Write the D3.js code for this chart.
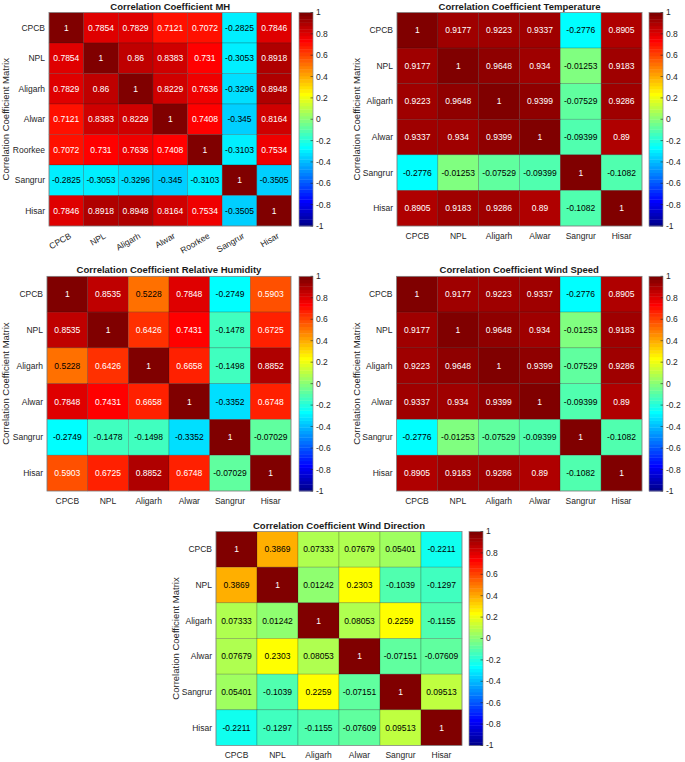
<!DOCTYPE html>
<html><head><meta charset="utf-8">
<script src="https://cdn.jsdelivr.net/npm/d3@7"></script>
<style>
body{margin:0;background:#fff}
text{font-family:"Liberation Sans",Arial,Helvetica,sans-serif}
</style>
</head><body>
<svg id="c" width="685" height="762"></svg>
<script>
// ---------- data ----------
const stationsMH = ["CPCB","NPL","Aligarh","Alwar","Roorkee","Sangrur","Hisar"];
const stations = ["CPCB","NPL","Aligarh","Alwar","Sangrur","Hisar"];

const valuesMH = [
  [1, 0.7854, 0.7829, 0.7121, 0.7072, -0.2825, 0.7846],
  [0.7854, 1, 0.86, 0.8383, 0.731, -0.3053, 0.8918],
  [0.7829, 0.86, 1, 0.8229, 0.7636, -0.3296, 0.8948],
  [0.7121, 0.8383, 0.8229, 1, 0.7408, -0.345, 0.8164],
  [0.7072, 0.731, 0.7636, 0.7408, 1, -0.3103, 0.7534],
  [-0.2825, -0.3053, -0.3296, -0.345, -0.3103, 1, -0.3505],
  [0.7846, 0.8918, 0.8948, 0.8164, 0.7534, -0.3505, 1]
];
const valuesTemperature = [
  [1, 0.9177, 0.9223, 0.9337, -0.2776, 0.8905],
  [0.9177, 1, 0.9648, 0.934, -0.01253, 0.9183],
  [0.9223, 0.9648, 1, 0.9399, -0.07529, 0.9286],
  [0.9337, 0.934, 0.9399, 1, -0.09399, 0.89],
  [-0.2776, -0.01253, -0.07529, -0.09399, 1, -0.1082],
  [0.8905, 0.9183, 0.9286, 0.89, -0.1082, 1]
];
const valuesRH = [
  [1, 0.8535, 0.5228, 0.7848, -0.2749, 0.5903],
  [0.8535, 1, 0.6426, 0.7431, -0.1478, 0.6725],
  [0.5228, 0.6426, 1, 0.6658, -0.1498, 0.8852],
  [0.7848, 0.7431, 0.6658, 1, -0.3352, 0.6748],
  [-0.2749, -0.1478, -0.1498, -0.3352, 1, -0.07029],
  [0.5903, 0.6725, 0.8852, 0.6748, -0.07029, 1]
];
const valuesWindSpeed = [
  [1, 0.9177, 0.9223, 0.9337, -0.2776, 0.8905],
  [0.9177, 1, 0.9648, 0.934, -0.01253, 0.9183],
  [0.9223, 0.9648, 1, 0.9399, -0.07529, 0.9286],
  [0.9337, 0.934, 0.9399, 1, -0.09399, 0.89],
  [-0.2776, -0.01253, -0.07529, -0.09399, 1, -0.1082],
  [0.8905, 0.9183, 0.9286, 0.89, -0.1082, 1]
];
const valuesWindDirection = [
  [1, 0.3869, 0.07333, 0.07679, 0.05401, -0.2211],
  [0.3869, 1, 0.01242, 0.2303, -0.1039, -0.1297],
  [0.07333, 0.01242, 1, 0.08053, 0.2259, -0.1155],
  [0.07679, 0.2303, 0.08053, 1, -0.07151, -0.07609],
  [0.05401, -0.1039, 0.2259, -0.07151, 1, 0.09513],
  [-0.2211, -0.1297, -0.1155, -0.07609, 0.09513, 1]
];
const colorbarTicks = [1, 0.8, 0.6, 0.4, 0.2, 0, -0.2, -0.4, -0.6, -0.8, -1];
const yAxisTitle = "Correlation Coefficient Matrix";

// ---------- layout ----------
const panels = [
  {title:"Correlation Coefficient MH", labels:stationsMH, values:valuesMH,
   x0:49, x1:291.5, y0:12.5, y1:226, cb:299, yl:6, rot:true},
  {title:"Correlation Coefficient Temperature", labels:stations, values:valuesTemperature,
   x0:397, x1:642, y0:12.5, y1:226, cb:649, yl:357, rot:false},
  {title:"Correlation Coefficient Relative Humidity", labels:stations, values:valuesRH,
   x0:47, x1:291, y0:276.3, y1:491, cb:299, yl:6, rot:false},
  {title:"Correlation Coefficient Wind Speed", labels:stations, values:valuesWindSpeed,
   x0:396.5, x1:642, y0:276.3, y1:491, cb:649, yl:357, rot:false},
  {title:"Correlation Coefficient Wind Direction", labels:stations, values:valuesWindDirection,
   x0:216, x1:462, y0:531.5, y1:745.5, cb:469, yl:176, rot:false}
];
const cbW = 14;
const FS = 8.5;

// MATLAB jet(64) with clim [-1 1]
const NC = 64;
function jetIdx(i){
  const c = t => Math.max(0, Math.min(1, t));
  const r = c(Math.min((i-24)/16, 1, (72-i)/16));
  const g = c(Math.min((i-8)/16, 1, (56-i)/16));
  const b = c(Math.min((i+8)/16, 1, (40-i)/16));
  return [r,g,b];
}
function idxOf(v){ return Math.max(1, Math.min(NC, Math.floor((v+1)/2*NC)+1)); }
function rgbStr(a){ return `rgb(${Math.round(a[0]*255)},${Math.round(a[1]*255)},${Math.round(a[2]*255)})`; }
const fmt = d3.format(".4~g");
const num = v => fmt(v).replace("\u2212","-");
const tickFmt = v => (v===0?"0":d3.format("~g")(v)).replace("\u2212","-");

const svg = d3.select("#c");
const labelColor = "#262626";

panels.forEach(p => {
  const g = svg.append("g");
  const x = d3.scaleBand().domain(p.labels).range([p.x0, p.x1]);
  const y = d3.scaleBand().domain(p.labels).range([p.y0, p.y1]);
  const cells = [];
  p.values.forEach((row, i) => row.forEach((v, j) => cells.push({r:p.labels[i], c:p.labels[j], v})));

  g.selectAll("rect.cell").data(cells).join("rect")
    .attr("x", d => x(d.c)).attr("y", d => y(d.r))
    .attr("width", x.bandwidth()).attr("height", y.bandwidth())
    .attr("fill", d => rgbStr(jetIdx(idxOf(d.v))))
    .attr("stroke", "rgba(30,30,30,0.35)").attr("stroke-width", 0.6);

  g.append("rect").attr("x", p.x0).attr("y", p.y0)
    .attr("width", p.x1-p.x0).attr("height", p.y1-p.y0)
    .attr("fill", "none").attr("stroke", "#8a8a8a").attr("stroke-width", 0.7);

  g.selectAll("text.val").data(cells).join("text")
    .attr("x", d => x(d.c) + x.bandwidth()/2)
    .attr("y", d => y(d.r) + y.bandwidth()/2)
    .attr("dy", "0.35em").attr("text-anchor", "middle")
    .attr("font-size", FS)
    .attr("fill", d => { const a = jetIdx(idxOf(d.v)); const L = 0.299*a[0]+0.587*a[1]+0.114*a[2]; return L > 0.5 ? "#000" : "#fff"; })
    .text(d => num(d.v));

  // y tick labels
  g.selectAll("text.yl").data(p.labels).join("text")
    .attr("x", p.x0 - 4).attr("y", d => y(d) + y.bandwidth()/2)
    .attr("dy", "0.35em").attr("text-anchor", "end")
    .attr("font-size", FS).attr("fill", labelColor).text(d => d);

  // x tick labels
  if (p.rot) {
    g.selectAll("text.xl").data(p.labels).join("text")
      .attr("transform", d => `translate(${x(d) + x.bandwidth()/2 + 4},${p.y1 + 9}) rotate(-30)`)
      .attr("dy", "0.35em").attr("text-anchor", "end")
      .attr("font-size", FS).attr("fill", labelColor).text(d => d);
  } else {
    g.selectAll("text.xl").data(p.labels).join("text")
      .attr("x", d => x(d) + x.bandwidth()/2).attr("y", p.y1 + 12.5)
      .attr("text-anchor", "middle")
      .attr("font-size", FS).attr("fill", labelColor).text(d => d);
  }

  // title
  g.append("text").attr("x", (p.x0+p.x1)/2).attr("y", p.y0 - 3)
    .attr("text-anchor", "middle").attr("font-size", 9.5).attr("font-weight", "bold")
    .attr("fill", "#1a1a1a").text(p.title);

  // y axis title
  g.append("text").attr("transform", `translate(${p.yl},${(p.y0+p.y1)/2}) rotate(-90)`)
    .attr("dy", "0.35em").attr("text-anchor", "middle")
    .attr("font-size", 9.5).attr("fill", labelColor).text(yAxisTitle);

  // colorbar
  const cy = d3.scaleLinear().domain([-1, 1]).range([p.y1, p.y0]);
  const steps = d3.range(NC);
  g.selectAll("rect.cb").data(steps).join("rect")
    .attr("x", p.cb).attr("width", cbW)
    .attr("y", k => cy(-1 + (k+1)*2/NC))
    .attr("height", k => cy(-1 + k*2/NC) - cy(-1 + (k+1)*2/NC) + 0.4)
    .attr("fill", k => rgbStr(jetIdx(k+1)));
  g.append("rect").attr("x", p.cb).attr("y", p.y0).attr("width", cbW).attr("height", p.y1-p.y0)
    .attr("fill", "none").attr("stroke", "#8a8a8a").attr("stroke-width", 0.7);
  g.selectAll("line.cbt").data(colorbarTicks).join("line")
    .attr("x1", p.cb + cbW - 2.5).attr("x2", p.cb + cbW)
    .attr("y1", d => cy(d)).attr("y2", d => cy(d))
    .attr("stroke", labelColor).attr("stroke-width", 0.6);
  g.selectAll("text.cbl").data(colorbarTicks).join("text")
    .attr("x", p.cb + cbW + 3).attr("y", d => cy(d)).attr("dy", "0.35em")
    .attr("font-size", FS).attr("fill", labelColor).text(tickFmt);
});
</script>
</body></html>
